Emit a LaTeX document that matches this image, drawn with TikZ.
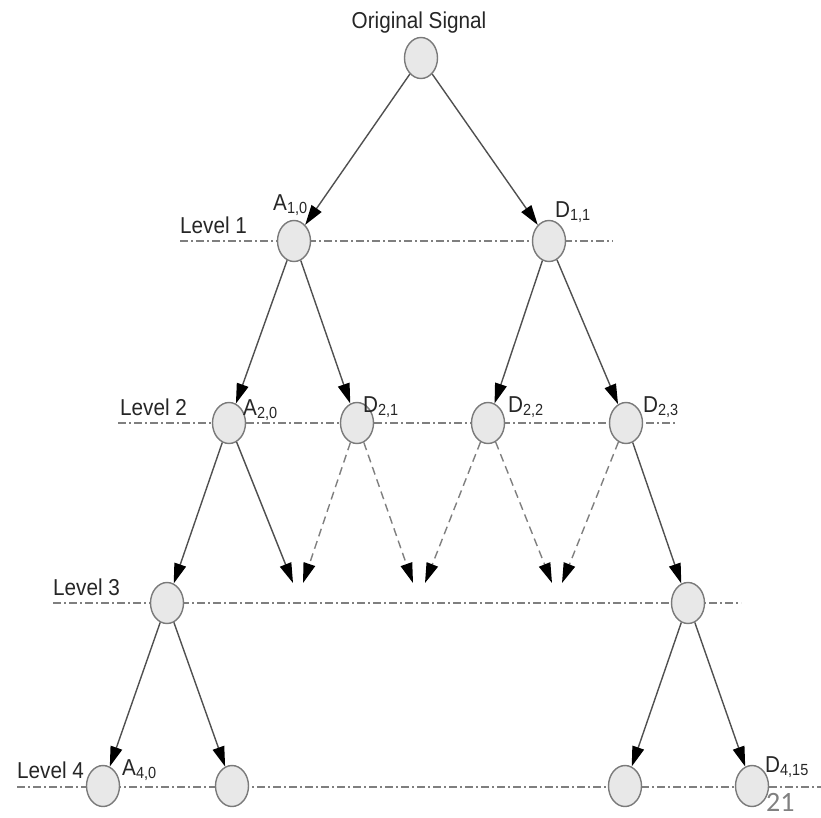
\documentclass[tikz,border=0pt]{standalone}
\usepackage{fontspec}
\setmainfont{Liberation Sans}
\newfontfamily\labfont[FakeStretch=0.9]{Liberation Sans}
\newfontfamily\pagefont{Carlito}
\usetikzlibrary{arrows.meta,shapes.geometric}
\definecolor{nodefill}{HTML}{E8E8E8}
\definecolor{nodeline}{HTML}{7A7A7A}
\definecolor{edgecol}{HTML}{505050}
\definecolor{levelcol}{HTML}{7F7F7F}
\tikzset{
  sig/.style={ellipse, draw=nodeline, fill=nodefill, line width=1.4pt, minimum width=33pt, minimum height=41pt, inner sep=0pt},
  lbl/.style={font=\labfont\fontsize{23}{23}\selectfont, inner sep=0pt, text=black!85},
  lvl/.style={draw=levelcol, line width=1.3pt, dash pattern=on 8pt off 3pt on 2pt off 3pt},
  edge/.style={draw=edgecol, line width=1.4pt, -{Triangle[length=20pt,width=12pt,black]}},
  dedge/.style={edge, draw=levelcol, dash pattern=on 8pt off 5pt},
}
\begin{document}
\begin{tikzpicture}[x=1pt,y=-1pt]
\useasboundingbox (0,0) rectangle (821,817);
% level lines
\coordinate (l1a) at (180,241); \coordinate (l1b) at (613,241);
\coordinate (l2a) at (118,423); \coordinate (l2b) at (676,423);
\coordinate (l3a) at (53,603); \coordinate (l3b) at (741,603);
\coordinate (l4a) at (17,787); \coordinate (l4b) at (821,787);
\draw[lvl] (l1a) -- (l1b);
\draw[lvl] (l2a) -- (l2b);
\draw[lvl] (l3a) -- (l3b);
\draw[lvl] (l4a) -- (l4b);
% nodes
\node[sig] (root) at (421,58) {};
\node[sig] (a10) at (294,241) {};
\node[sig] (d11) at (549,241) {};
\node[sig] (a20) at (229,423) {};
\node[sig] (d21) at (357,423) {};
\node[sig] (d22) at (488,423) {};
\node[sig] (d23) at (626,423) {};
\node[sig] (a30) at (167,603) {};
\node[sig] (d3r) at (688,603) {};
\node[sig] (a40) at (103,786) {};
\node[sig] (n41) at (232,786) {};
\node[sig] (n42) at (625,786) {};
\node[sig] (d415) at (752,786) {};
% free ends
\coordinate (t1) at (293,583);
\coordinate (t2) at (303,583);
\coordinate (t3) at (413,583);
\coordinate (t4) at (425,583);
\coordinate (t5) at (552,583);
\coordinate (t6) at (562,583);
% labels
\node[lbl, anchor=base] (tOrig) at (419,28) {Original Signal};
\node[lbl, anchor=base west] (tL1) at (180,233) {Level 1};
\node[lbl, anchor=base west] (tL2) at (120,415) {Level 2};
\node[lbl, anchor=base west] (tL3) at (53,595) {Level 3};
\node[lbl, anchor=base west] (tL4) at (17,778) {Level 4};
\node[lbl, anchor=base west] (tA10) at (273,210) {A\textsubscript{1,0}};
\node[lbl, anchor=base west] (tD11) at (555,217) {D\textsubscript{1,1}};
\node[lbl, anchor=base west] (tA20) at (243,415) {A\textsubscript{2,0}};
\node[lbl, anchor=base west] (tD21) at (363,412) {D\textsubscript{2,1}};
\node[lbl, anchor=base west] (tD22) at (508,412) {D\textsubscript{2,2}};
\node[lbl, anchor=base west] (tD23) at (643,412) {D\textsubscript{2,3}};
\node[lbl, anchor=base west] (tA40) at (122,775) {A\textsubscript{4,0}};
\node[lbl, anchor=base west] (tD415) at (765,772) {D\textsubscript{4,15}};
\node[font=\pagefont\fontsize{28}{28}\selectfont, text=black!50, inner sep=0pt, anchor=base west] (pg) at (766,811) {21};
% edges
\draw[edge] (root) -- (a10);
\draw[edge] (root) -- (d11);
\draw[edge] (a10) -- (a20);
\draw[edge] (a10) -- (d21);
\draw[edge] (d11) -- (d22);
\draw[edge] (d11) -- (d23);
\draw[edge] (a20) -- (a30);
\draw[edge] (a20) -- (t1);
\draw[dedge] (d21) -- (t2);
\draw[dedge] (d21) -- (t3);
\draw[dedge] (d22) -- (t4);
\draw[dedge] (d22) -- (t5);
\draw[dedge] (d23) -- (t6);
\draw[edge] (d23) -- (d3r);
\draw[edge] (a30) -- (a40);
\draw[edge] (a30) -- (n41);
\draw[edge] (d3r) -- (n42);
\draw[edge] (d3r) -- (d415);
\end{tikzpicture}
\end{document}
